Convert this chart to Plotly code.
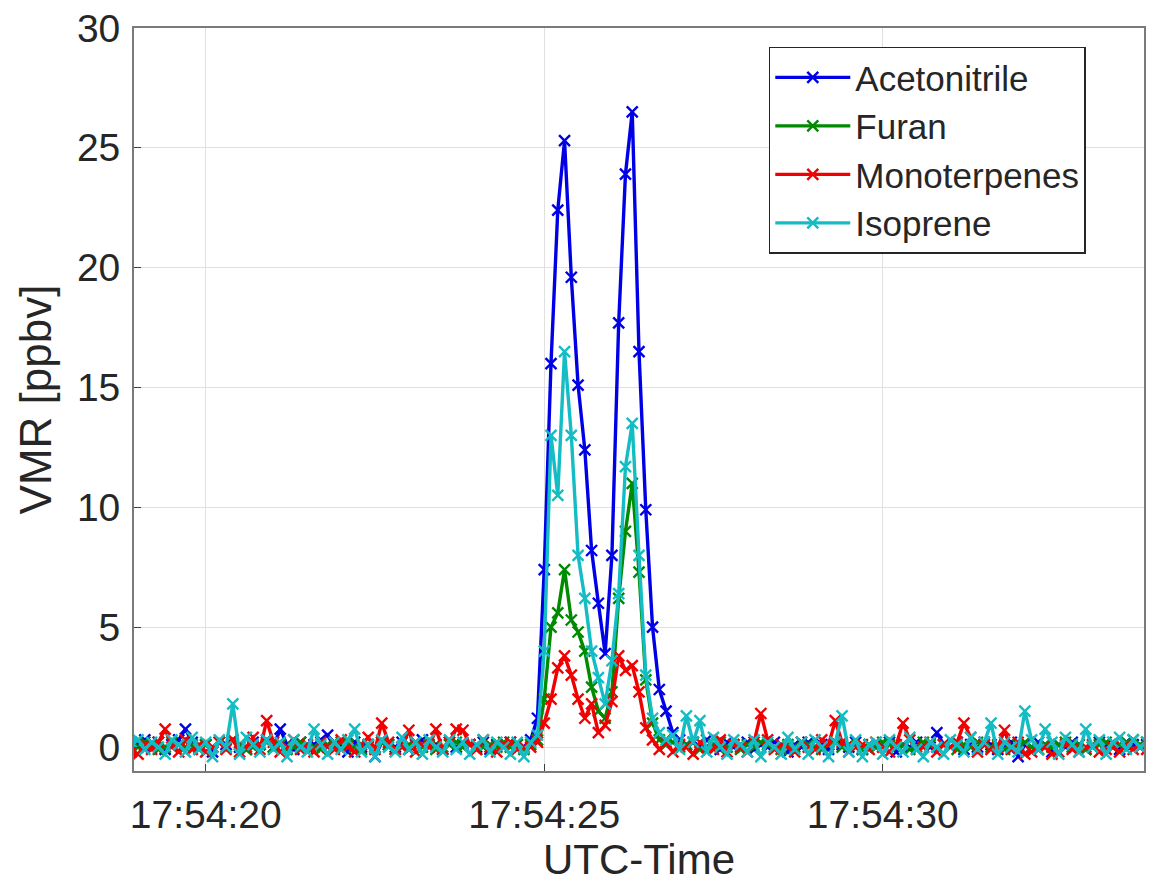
import pandas as pd
import plotly.graph_objects as go

# ---- data (10 Hz samples starting 17:54:18.9 UTC) ----
start_time = "2019-08-07 17:54:18.9"
n_samples = 151
sample_ms = 100

acetonitrile = [
    0.2, 0.1, 0.3, 0.0, 0.2, -0.1, 0.1, 0.3, 0.75, 0.2,
    0.0, 0.1, -0.2, 0.2, 0.1, 0.3, 0.0, -0.1, 0.2, 0.1,
    0.3, 0.0, 0.75, 0.1, -0.1, 0.2, 0.0, 0.1, 0.3, 0.5,
    0.0, 0.1, -0.2, 0.2, 0.0, 0.1, -0.4, 0.2, 0.1, 0.0,
    0.2, -0.1, 0.1, 0.3, 0.0, 0.1, -0.1, 0.2, 0.0, 0.1,
    0.1, 0.0, 0.2, -0.1, 0.1, 0.0, 0.2, 0.1, 0.0, 0.3,
    1.2, 7.4, 16.0, 22.4, 25.3, 19.6, 15.1, 12.4, 8.2, 6.0,
    3.9, 8.0, 17.7, 23.9, 26.5, 16.5, 9.9, 5.0, 2.4, 1.5,
    0.6, 0.3, 0.1, 0.2, 0.0, 0.3, 0.1, -0.1, 0.2, 0.0,
    0.1, 0.2, -0.1, 0.1, 0.0, 0.2, 0.1, -0.2, 0.1, 0.0,
    0.2, 0.0, 0.1, -0.1, 0.2, 0.1, 0.0, 0.2, -0.1, 0.1,
    0.0, 0.1, 0.2, -0.2, 0.1, 0.0, 0.2, 0.1, 0.0, 0.6,
    0.1, 0.0, 0.2, -0.1, 0.1, 0.0, 0.2, 0.1, -0.1, 0.0,
    0.2, -0.4, 0.1, 0.0, 0.2, 0.1, -0.2, 0.1, 0.0, 0.2,
    0.1, -0.1, 0.0, 0.2, 0.1, 0.0, -0.1, 0.2, 0.1, 0.0,
    0.1,
]

furan = [
    0.1, 0.0, 0.2, 0.1, -0.1, 0.0, 0.2, 0.1, 0.0, 0.1,
    -0.1, 0.1, 0.0, 0.2, 0.0, 0.3, 0.1, -0.1, 0.0, 0.1,
    0.2, 0.0, 0.1, -0.1, 0.0, 0.2, 0.1, 0.0, -0.1, 0.1,
    0.0, 0.2, 0.1, 0.0, -0.1, 0.1, 0.0, 0.2, 0.1, -0.1,
    0.0, 0.1, 0.2, 0.0, 0.1, -0.1, 0.0, 0.1, 0.2, 0.0,
    0.1, -0.1, 0.0, 0.1, 0.0, 0.2, 0.0, 0.1, -0.1, 0.1,
    0.3, 2.0, 5.0, 5.6, 7.4, 5.3, 4.8, 4.0, 2.5, 1.5,
    1.2, 2.3, 6.2, 9.0, 11.0, 7.3, 2.8, 1.0, 0.3, 0.1,
    0.2, 0.0, 0.1, 0.2, -0.1, 0.0, 0.1, 0.2, 0.0, 0.1,
    -0.1, 0.1, 0.0, 0.2, 0.1, 0.0, -0.1, 0.1, 0.0, 0.2,
    0.1, 0.0, -0.1, 0.1, 0.2, 0.0, 0.1, 0.0, -0.1, 0.1,
    0.0, 0.2, 0.1, 0.0, 0.1, -0.1, 0.0, 0.2, 0.1, 0.0,
    0.1, 0.0, -0.1, 0.1, 0.0, 0.2, 0.1, 0.0, 0.1, -0.1,
    0.0, 0.1, 0.2, 0.0, -0.1, 0.1, 0.0, 0.1, 0.2, 0.0,
    0.1, -0.1, 0.0, 0.1, 0.2, 0.0, 0.1, 0.2, 0.3, 0.1,
    0.2,
]

monoterpenes = [
    -0.2, -0.3, 0.1, -0.1, 0.2, 0.75, 0.0, -0.2, 0.3, -0.1,
    0.1, -0.2, 0.0, 0.2, -0.1, 0.3, -0.2, 0.0, 0.4, -0.1,
    1.1, 0.2, -0.2, 0.0, 0.3, -0.1, 0.1, -0.2, 0.2, 0.0,
    -0.1, 0.3, 0.0, -0.2, 0.1, 0.4, -0.1, 1.0, 0.2, -0.1,
    0.0, 0.7, -0.2, 0.1, 0.0, 0.75, -0.1, 0.2, 0.75, 0.7,
    0.1, -0.1, 0.3, 0.0, -0.2, 0.1, 0.2, -0.1, 0.0, 0.0,
    0.2, 1.0, 2.0, 3.3, 3.8, 3.0, 2.0, 1.2, 1.8, 0.6,
    0.9, 1.9, 3.8, 3.2, 3.4, 2.3, 0.8, 0.3, -0.1, 0.2,
    -0.2, 0.1, 0.0, -0.3, 0.2, 0.0, -0.1, 0.3, -0.2, 0.1,
    0.0, -0.2, 0.2, 1.4, 0.3, -0.1, 0.1, 0.0, -0.2, 0.2,
    0.0, -0.1, 0.3, 0.1, 1.1, 0.2, -0.2, 0.0, 0.1, -0.1,
    0.2, 0.0, -0.2, 0.1, 1.0, 0.3, -0.1, 0.0, 0.2, -0.2,
    0.1, 0.0, 0.2, 1.0, 0.4, -0.2, 0.1, -0.1, 0.0, 0.7,
    -0.1, 0.2, -0.3, -0.2, -0.1, 0.0, -0.3, -0.2, 0.1, -0.1,
    -0.2, 0.0, 0.1, -0.2, -0.1, 0.0, -0.2, 0.1, -0.1, 0.0,
    -0.1,
]

isoprene = [
    0.2, 0.3, -0.1, 0.2, 0.0, -0.3, 0.3, 0.1, -0.2, 0.4,
    -0.1, 0.2, -0.4, 0.3, 0.0, 1.8, -0.3, 0.4, 0.1, -0.2,
    0.3, -0.1, 0.2, -0.4, 0.3, 0.0, -0.2, 0.75, 0.1, -0.3,
    0.2, -0.1, 0.3, 0.75, -0.2, 0.1, -0.4, 0.3, 0.0, -0.2,
    0.4, -0.1, 0.2, -0.3, 0.3, 0.0, -0.2, 0.3, -0.1, 0.2,
    -0.3, 0.1, 0.3, -0.2, 0.2, 0.0, -0.3, 0.2, -0.4, 0.2,
    0.5, 4.0, 13.0, 10.5, 16.5, 13.0, 8.0, 6.2, 4.0, 2.9,
    1.8, 3.6, 6.4, 11.7, 13.5, 8.0, 3.0, 1.2, 0.6, 0.3,
    0.5, -0.1, 1.3, 0.2, 1.1, -0.2, 0.4, 0.0, -0.3, 0.3,
    0.1, -0.2, 0.3, -0.4, 0.2, 0.0, -0.3, 0.4, -0.1, 0.2,
    -0.3, 0.3, 0.0, -0.4, 0.2, 1.3, -0.2, 0.3, -0.4, 0.1,
    0.2, -0.3, 0.3, 0.0, -0.2, 0.4, -0.1, -0.4, 0.2, 0.0,
    -0.3, 0.3, 0.1, -0.2, 0.4, -0.1, 0.2, 1.0, -0.3, 0.2,
    0.0, -0.2, 1.5, 0.3, -0.1, 0.75, 0.2, -0.3, 0.4, 0.1,
    -0.2, 0.75, 0.0, 0.3, -0.3, 0.2, 0.4, -0.1, 0.3, 0.0,
    0.2,
]

series_names = ["Acetonitrile", "Furan", "Monoterpenes", "Isoprene"]
series_colors = ["#0000E6", "#008A00", "#F00000", "#14BCC4"]

x_range = ["2019-08-07 17:54:18.94", "2019-08-07 17:54:33.86"]
x_tick0 = "2019-08-07 17:54:20"
y_range = [-1, 30]

times = pd.date_range(start_time, periods=n_samples, freq=f"{sample_ms}ms")

FONT = "Liberation Sans, Arial, sans-serif"
TXT = "#262626"

fig = go.Figure()
for name, vals, col in zip(series_names,
                           [acetonitrile, furan, monoterpenes, isoprene],
                           series_colors):
    fig.add_trace(go.Scatter(
        x=times[:len(vals)], y=vals, name=name, mode="lines+markers",
        line=dict(color=col, width=3.4),
        marker=dict(symbol="x-thin", size=11, line=dict(color=col, width=2.4)),
    ))

axis_common = dict(
    showline=True, linecolor="#7A7A7A", linewidth=1.8, mirror=True,
    ticks="inside", ticklen=7, tickcolor="#404040", tickwidth=1,
    showgrid=True, gridcolor="#E0E0E0", gridwidth=1, zeroline=False,
    tickfont=dict(family=FONT, size=39, color=TXT),
)

fig.update_layout(
    width=1153, height=884,
    margin=dict(l=134, r=7, t=22, b=113),
    paper_bgcolor="white", plot_bgcolor="white",
    font=dict(family=FONT, color=TXT),
    showlegend=True,
    legend=dict(
        x=0.6285, y=0.975, xanchor="left", yanchor="top",
        bgcolor="white", bordercolor="#262626", borderwidth=1.5,
        font=dict(family=FONT, size=35, color=TXT),
        itemwidth=75, tracegroupgap=0,
    ),
)
fig.update_xaxes(
    type="date", range=x_range, tick0=x_tick0, dtick=5000,
    tickformat="%H:%M:%S", ticklabelstandoff=8,
    title=dict(text="UTC-Time", font=dict(family=FONT, size=42, color=TXT), standoff=2),
    **axis_common,
)
fig.update_yaxes(
    range=y_range, tick0=0, dtick=5, ticklabelstandoff=4,
    title=dict(text="VMR [ppbv]", font=dict(family=FONT, size=44, color=TXT), standoff=12),
    **axis_common,
)

fig.write_html("out.html")
